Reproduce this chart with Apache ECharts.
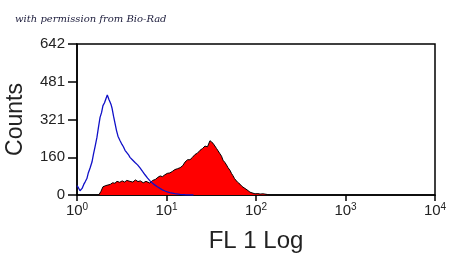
<!DOCTYPE html>
<html>
<head>
    <meta charset="utf-8">
    <script src="https://cdn.jsdelivr.net/npm/echarts@6/dist/echarts.min.js"></script>
    <style>
        html, body { margin: 0; padding: 0; background: #fff; }
    </style>
</head>
<body>

    <div id="main" style="width: 450px;height:260px;"></div>

<script type="text/javascript">
// fl1 channel (log) / counts
var yTicks = [0, 160.5, 321, 481.5, 642];
var xTicks = [1, 10, 100, 1000, 10000];

var blueX = [1.0, 1.04, 1.08, 1.11, 1.14, 1.19, 1.23, 1.29, 1.34, 1.40, 1.47, 1.53, 1.59, 1.67, 1.74, 1.81, 1.88, 1.95, 2.03, 2.11, 2.18, 2.22, 2.28, 2.34, 2.40, 2.46, 2.56, 2.66, 2.76, 2.87, 3.02, 3.18, 3.30, 3.44, 3.60, 3.75, 3.91, 4.15, 4.45, 4.75, 5.06, 5.40, 5.75, 6.15, 6.54, 7.0, 7.44, 7.9, 8.46, 9.0, 9.62, 10.2, 10.9, 12.4, 14.2, 16.1, 20];
var blueY = [40, 30, 18, 22, 28, 45, 55, 70, 95, 115, 140, 175, 205, 245, 290, 330, 350, 380, 392, 410, 425, 420, 405, 395, 385, 370, 335, 305, 275, 250, 232, 215, 205, 190, 182, 172, 160, 150, 138, 128, 115, 100, 86, 72, 60, 50, 42, 35, 28, 22, 17, 13, 10, 6, 3, 1, 0];

var redX = [1.75, 1.85, 1.95, 2.1, 2.2, 2.35, 2.5, 2.65, 2.8, 3.0, 3.2, 3.4, 3.6, 3.9, 4.2, 4.5, 4.8, 5.1, 5.5, 5.9, 6.5, 7.0, 7.5, 8.0, 8.5, 9.0, 9.6, 10.2, 10.9, 11.6, 12.4, 13.3, 14.2, 15.2, 16.1, 17.2, 18.3, 19.5, 20.8, 22.2, 23.7, 25.3, 26.9, 28.7, 30.6, 31.8, 33.1, 34.8, 36.2, 37.6, 39.6, 41.2, 42.8, 45.0, 46.8, 48.7, 51.2, 53.2, 55.3, 57.5, 59.8, 62.0, 66.3, 70, 73.4, 79.3, 85.7, 90.2, 97.5, 105, 111, 120, 126, 135, 143];
var redY = [0, 15, 35, 40, 48, 45, 52, 50, 58, 54, 60, 55, 62, 58, 55, 64, 57, 60, 52, 58, 51, 62, 66, 75, 81, 78, 86, 92, 94, 100, 108, 112, 116, 125, 140, 150, 150, 160, 172, 178, 190, 198, 208, 205, 231, 225, 220, 212, 198, 190, 175, 165, 148, 138, 128, 116, 105, 92, 82, 70, 62, 55, 46, 36, 28, 22, 12, 9, 5, 6, 4, 5, 4, 2, 0];

function pairs(xs, ys) {
    return xs.map(function (x, i) { return [x, ys[i]]; });
}

var myChart = echarts.init(document.getElementById('main'));

myChart.setOption({
    backgroundColor: '#fff',
    animation: false,
    title: {
        text: 'with permission from Bio-Rad',
        left: 10,
        top: 9,
        textStyle: {
            fontFamily: 'DejaVu Serif',
            fontStyle: 'italic',
            fontWeight: 'normal',
            fontSize: 10,
            color: '#1a1a3a'
        }
    },
    grid: {
        left: 77,
        right: 15,
        top: 44,
        bottom: 65,
        outerBoundsMode: 'none',
        containLabel: false,
        show: true,
        borderColor: '#000',
        borderWidth: 1.5,
        backgroundColor: '#fff'
    },
    xAxis: {
        type: 'log',
        logBase: 10,
        min: xTicks[0],
        max: xTicks[xTicks.length - 1],
        name: 'FL 1 Log',
        nameLocation: 'middle',
        nameGap: 34,
        nameTextStyle: { fontFamily: 'Liberation Sans', fontSize: 24, color: '#222' },
        axisLine: { lineStyle: { color: '#000', width: 1.5 } },
        axisTick: { inside: false, length: 6, lineStyle: { color: '#000', width: 1.5 } },
        minorTick: { show: false },
        splitLine: { show: false },
        axisLabel: {
            margin: 7,
            fontFamily: 'Liberation Sans',
            fontSize: 15,
            color: '#222',
            formatter: function (v) {
                return '10{s|' + Math.round(Math.log10(v)) + '}';
            },
            rich: {
                s: { fontFamily: 'Liberation Sans', fontSize: 10, color: '#222', verticalAlign: 'top', padding: [0, 0, 8, 0] }
            }
        }
    },
    yAxis: {
        type: 'value',
        min: yTicks[0],
        max: yTicks[yTicks.length - 1],
        interval: yTicks[1],
        name: 'Counts',
        nameLocation: 'middle',
        nameGap: 50,
        nameTextStyle: { fontFamily: 'Liberation Sans', fontSize: 23, color: '#222' },
        axisLine: { show: true, lineStyle: { color: '#000', width: 1.5 } },
        axisTick: { show: true, inside: false, length: 9, lineStyle: { color: '#000', width: 1.5 } },
        splitLine: { show: false },
        axisLabel: {
            margin: 12,
            fontFamily: 'Liberation Sans',
            fontSize: 15,
            color: '#222',
            formatter: function (v) { return String(Math.floor(v)); }
        }
    },
    series: [
        {
            type: 'line',
            data: pairs(redX, redY),
            symbol: 'none',
            lineStyle: { color: '#000', width: 1 },
            areaStyle: { color: '#ff0000', opacity: 1 },
            z: 2
        },
        {
            type: 'line',
            data: pairs(blueX, blueY),
            symbol: 'none',
            lineStyle: { color: '#1010c8', width: 1.3 },
            z: 3
        }
    ]
});
</script>

</body>
</html>
